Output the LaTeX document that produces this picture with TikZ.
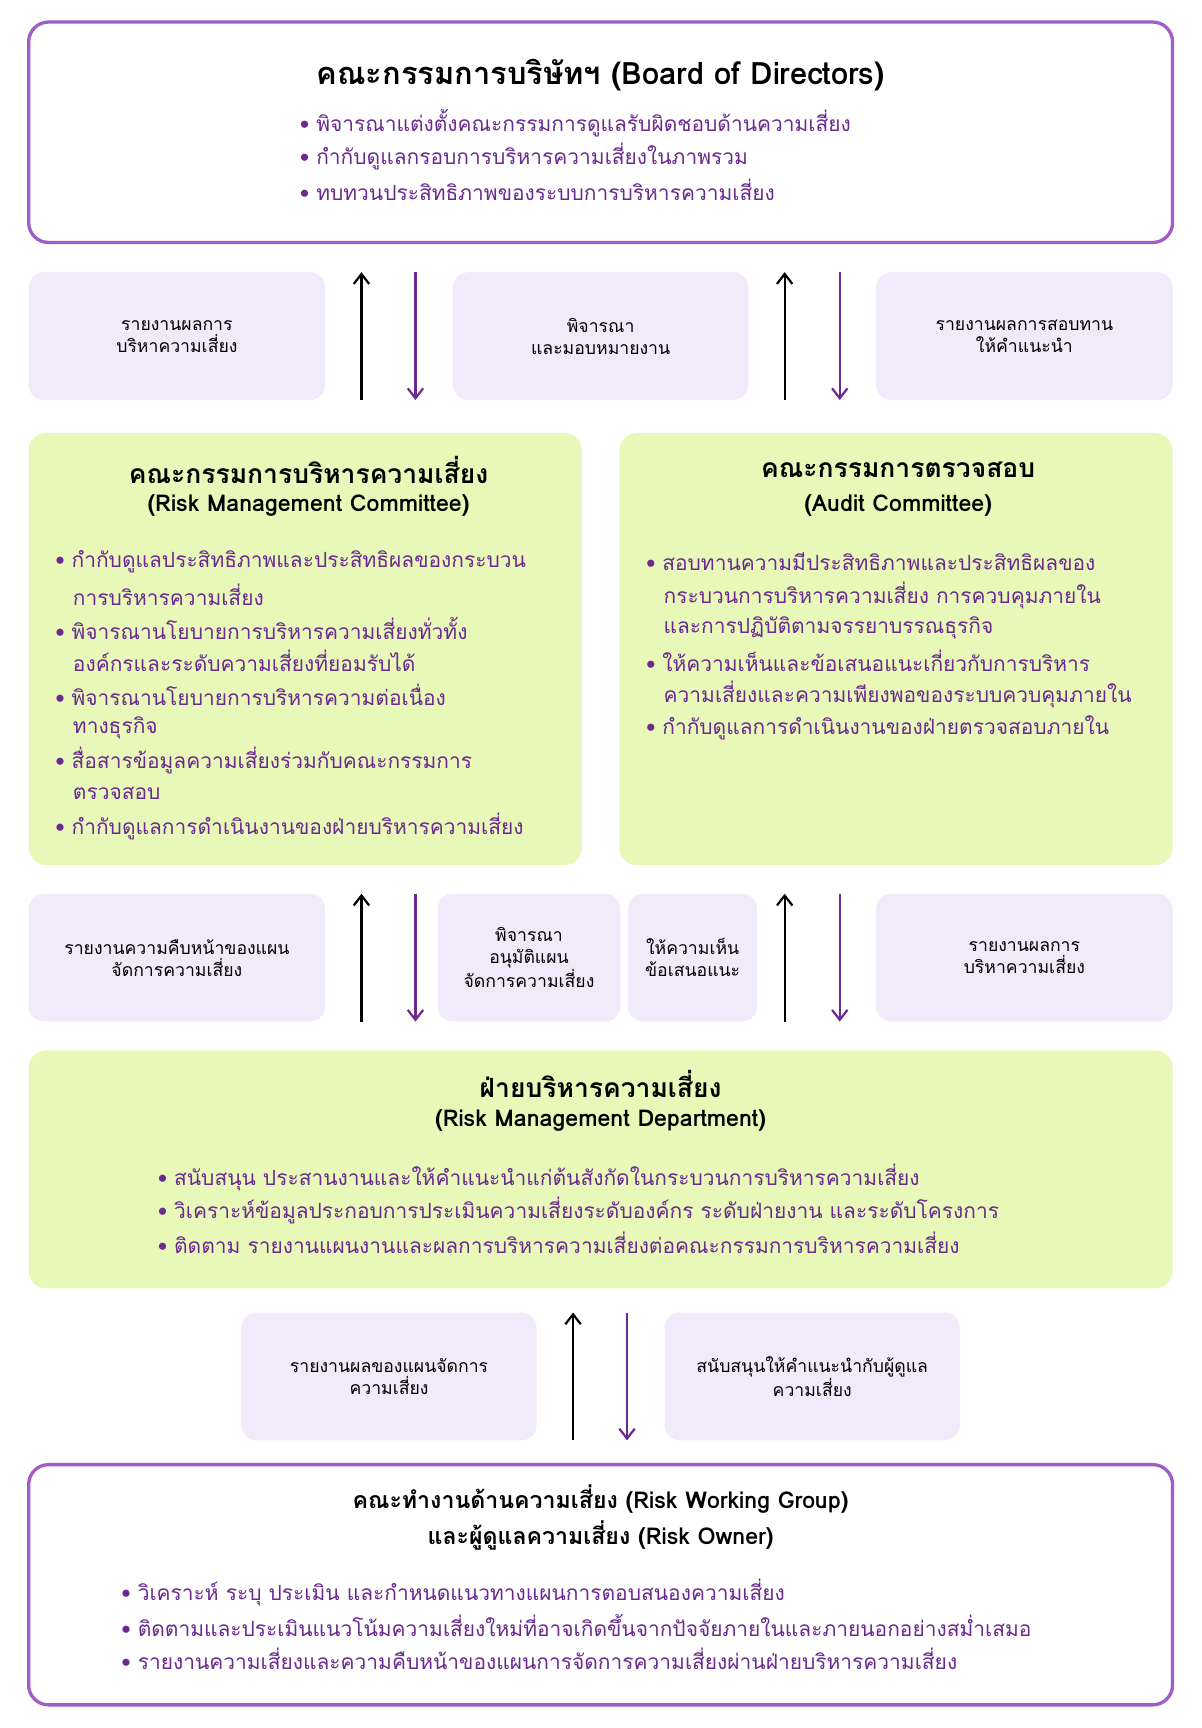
\documentclass[tikz,border=0pt]{standalone}
\usepackage{fontspec}
\setmainfont[Script=Thai]{Loma}
\usetikzlibrary{arrows.meta}
\definecolor{pborder}{HTML}{A05CC8}
\definecolor{ptext}{HTML}{6A2A90}
\definecolor{lav}{HTML}{F1EAFB}
\definecolor{grn}{HTML}{E8F8B8}
\tikzset{
 bigbox/.style={draw=pborder,line width=3pt,rounded corners=18pt,fill=white},
 gbox/.style={fill=grn,rounded corners=16pt},
 lbox/.style={fill=lav,rounded corners=14pt},
 ttl/.style={font=\fontsize{24}{28}\selectfont\bfseries,text=black},
 bul/.style={anchor=west,font=\fontsize{19}{22}\selectfont,text=ptext,inner sep=0pt},
 lab/.style={font=\fontsize{16}{20}\selectfont,text=black,align=center},
 up/.style={-{Straight Barb[length=9pt,width=14pt]},line width=2pt,black},
 dn/.style={-{Straight Barb[length=9pt,width=14pt]},line width=2pt,ptext},
}
\newcommand\bb[4]{\node[bul] (#1) at (#2,#3) {•\hspace{6pt}#4};}
\newcommand\bc[4]{\node[bul] (#1) at (#2+14,#3) {#4};}
\begin{document}
\begin{tikzpicture}[x=1pt,y=-1pt]
\useasboundingbox[fill=white] (0,0) rectangle (1090,1568);
% Board
\draw[bigbox] (26,20) rectangle (1064,220);
\node[ttl,font=\fontsize{28}{32}\selectfont\bfseries] (t1) at (545,68) {คณะกรรมการบริษัทฯ (Board of Directors)};
\bb{b1}{272}{112}{พิจารณาแต่งตั้งคณะกรรมการดูแลรับผิดชอบด้านความเสี่ยง}
\bb{b2}{272}{142}{กำกับดูแลกรอบการบริหารความเสี่ยงในภาพรวม}
\bb{b3}{272}{172}{ทบทวนประสิทธิภาพของระบบการบริหารความเสี่ยง}
% row1
\fill[lbox] (26,247) rectangle (295,363); \node[lab] (l1) at (160.5,305) {รายงานผลการ\\บริหาความเสี่ยง};
\fill[lbox] (411,247) rectangle (679,363); \node[lab] (l2) at (545,305) {พิจารณา\\และมอบหมายงาน};
\fill[lbox] (795,247) rectangle (1064,363); \node[lab] (l3) at (929.5,305) {รายงานผลการสอบทาน\\ให้คำแนะนำ};
\coordinate (a1s) at (328,363); \coordinate (a1e) at (328,247);
\coordinate (a2s) at (377,247); \coordinate (a2e) at (377,363);
\coordinate (a3s) at (712,363); \coordinate (a3e) at (712,247);
\coordinate (a4s) at (762,247); \coordinate (a4e) at (762,363);
\draw[up] (a1s)--(a1e); \draw[dn] (a2s)--(a2e); \draw[up] (a3s)--(a3e); \draw[dn] (a4s)--(a4e);
% RMC
\fill[gbox] (26,393) rectangle (528,785);
\node[ttl] (t2) at (280,426) {คณะกรรมการบริหารความเสี่ยง};
\node[ttl,font=\fontsize{21}{24}\selectfont\bfseries] (t2b) at (280,459) {(Risk Management Committee)};
\bb{r1}{50}{510}{กำกับดูแลประสิทธิภาพและประสิทธิผลของกระบวน}
\bc{r1b}{52}{540}{การบริหารความเสี่ยง}
\bb{r2}{50}{570}{พิจารณานโยบายการบริหารความเสี่ยงทั่วทั้ง}
\bc{r2b}{52}{600}{องค์กรและระดับความเสี่ยงที่ยอมรับได้}
\bb{r3}{50}{630}{พิจารณานโยบายการบริหารความต่อเนื่อง}
\bc{r3b}{52}{660}{ทางธุรกิจ}
\bb{r4}{50}{690}{สื่อสารข้อมูลความเสี่ยงร่วมกับคณะกรรมการ}
\bc{r4b}{52}{720}{ตรวจสอบ}
\bb{r5}{50}{750}{กำกับดูแลการดำเนินงานของฝ่ายบริหารความเสี่ยง}
% Audit
\fill[gbox] (562,393) rectangle (1064,785);
\node[ttl] (t3) at (815,426) {คณะกรรมการตรวจสอบ};
\node[ttl,font=\fontsize{21}{24}\selectfont\bfseries] (t3b) at (815,459) {(Audit Committee)};
\bb{c1}{586}{510}{สอบทานความมีประสิทธิภาพและประสิทธิผลของ}
\bc{c1b}{588}{540}{กระบวนการบริหารความเสี่ยง การควบคุมภายใน}
\bc{c1c}{588}{570}{และการปฏิบัติตามจรรยาบรรณธุรกิจ}
\bb{c2}{586}{600}{ให้ความเห็นและข้อเสนอแนะเกี่ยวกับการบริหาร}
\bc{c2b}{588}{630}{ความเสี่ยงและความเพียงพอของระบบควบคุมภายใน}
\bb{c3}{586}{660}{กำกับดูแลการดำเนินงานของฝ่ายตรวจสอบภายใน}
% row2
\fill[lbox] (26,811) rectangle (295,927); \node[lab] (m1) at (160.5,869) {รายงานความคืบหน้าของแผน\\จัดการความเสี่ยง};
\fill[lbox] (397,811) rectangle (563,927); \node[lab] (m2) at (480,869) {พิจารณา\\อนุมัติแผน\\จัดการความเสี่ยง};
\fill[lbox] (570,811) rectangle (687,927); \node[lab] (m3) at (628.5,869) {ให้ความเห็น\\ข้อเสนอแนะ};
\fill[lbox] (795,811) rectangle (1064,927); \node[lab] (m4) at (929.5,869) {รายงานผลการ\\บริหาความเสี่ยง};
\coordinate (b1s) at (328,927); \coordinate (b1e) at (328,811);
\coordinate (b2s) at (377,811); \coordinate (b2e) at (377,927);
\coordinate (b3s) at (712,927); \coordinate (b3e) at (712,811);
\coordinate (b4s) at (762,811); \coordinate (b4e) at (762,927);
\draw[up] (b1s)--(b1e); \draw[dn] (b2s)--(b2e); \draw[up] (b3s)--(b3e); \draw[dn] (b4s)--(b4e);
% RMD
\fill[gbox] (26,953) rectangle (1064,1169);
\node[ttl] (t4) at (545,984) {ฝ่ายบริหารความเสี่ยง};
\node[ttl,font=\fontsize{21}{24}\selectfont\bfseries] (t4b) at (545,1017) {(Risk Management Department)};
\bb{d1}{143}{1068}{สนับสนุน ประสานงานและให้คำแนะนำแก่ต้นสังกัดในกระบวนการบริหารความเสี่ยง}
\bb{d2}{143}{1098}{วิเคราะห์ข้อมูลประกอบการประเมินความเสี่ยงระดับองค์กร ระดับฝ่ายงาน และระดับโครงการ}
\bb{d3}{143}{1128}{ติดตาม รายงานแผนงานและผลการบริหารความเสี่ยงต่อคณะกรรมการบริหารความเสี่ยง}
% row3
\fill[lbox] (219,1191) rectangle (487,1307); \node[lab] (n1) at (353,1249) {รายงานผลของแผนจัดการ\\ความเสี่ยง};
\fill[lbox] (603,1191) rectangle (871,1307); \node[lab] (n2) at (737,1249) {สนับสนุนให้คำแนะนำกับผู้ดูแล\\ความเสี่ยง};
\coordinate (c1s) at (520,1307); \coordinate (c1e) at (520,1191);
\coordinate (c2s) at (569,1191); \coordinate (c2e) at (569,1307);
\draw[up] (c1s)--(c1e); \draw[dn] (c2s)--(c2e);
% Bottom
\draw[bigbox] (26,1329) rectangle (1064,1547);
\node[ttl,font=\fontsize{21}{24}\selectfont\bfseries] (t5) at (545,1360) {คณะทำงานด้านความเสี่ยง (Risk Working Group)};
\node[ttl,font=\fontsize{21}{24}\selectfont\bfseries] (t5b) at (545,1393) {และผู้ดูแลความเสี่ยง (Risk Owner)};
\bb{e1}{110}{1445}{วิเคราะห์ ระบุ ประเมิน และกำหนดแนวทางแผนการตอบสนองความเสี่ยง}
\bb{e2}{110}{1475}{ติดตามและประเมินแนวโน้มความเสี่ยงใหม่ที่อาจเกิดขึ้นจากปัจจัยภายในและภายนอกอย่างสม่ำเสมอ}
\bb{e3}{110}{1505}{รายงานความเสี่ยงและความคืบหน้าของแผนการจัดการความเสี่ยงผ่านฝ่ายบริหารความเสี่ยง}
\end{tikzpicture}
\end{document}
